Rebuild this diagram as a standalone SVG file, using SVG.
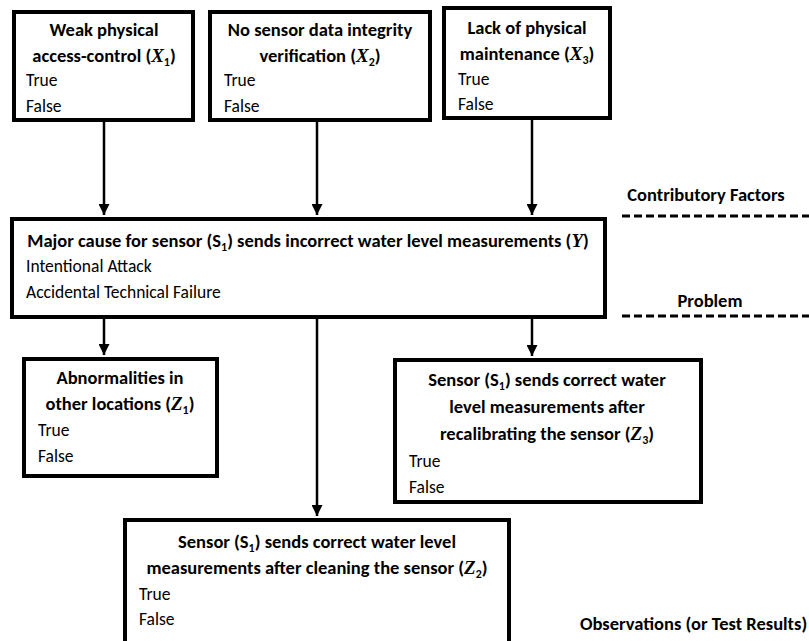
<svg xmlns="http://www.w3.org/2000/svg" width="809" height="641" viewBox="0 0 809 641">
  <style>
    .box { fill: #ffffff; stroke: #000000; stroke-width: 4; }
    .edge { stroke: #000000; stroke-width: 2.5; fill: none; }
    .dash { stroke: #000000; stroke-width: 3; stroke-dasharray: 8 4; }
    .t { font-family: Carlito, "Liberation Sans", Arial, sans-serif; font-weight: bold; font-size: 18.5px; fill: #000; text-anchor: middle; }
    .l { font-family: Carlito, "Liberation Sans", Arial, sans-serif; font-weight: bold; font-size: 18.5px; fill: #000; }
    .v { font-family: Carlito, "Liberation Sans", Arial, sans-serif; font-size: 17.5px; fill: #000; }
    .m { font-family: "Liberation Serif", "Times New Roman", serif; font-style: italic; font-weight: bold; font-size: 19px; }
    .sub { font-size: 12px; }
  </style>
  <defs>
    <marker id="arrow" viewBox="0 0 10 10" refX="10" refY="5" markerWidth="4.4" markerHeight="4.4" markerUnits="strokeWidth" orient="auto">
      <path d="M0,0 L10,5 L0,10 z" fill="#000"/>
    </marker>
  </defs>

  <!-- connectors -->
  <g id="connectors">
    <line class="edge" x1="104" y1="122" x2="104" y2="215" marker-end="url(#arrow)"/>
    <line class="edge" x1="317" y1="122" x2="317" y2="215" marker-end="url(#arrow)"/>
    <line class="edge" x1="532" y1="120" x2="532" y2="215" marker-end="url(#arrow)"/>
    <line class="edge" x1="104" y1="319" x2="104" y2="355" marker-end="url(#arrow)"/>
    <line class="edge" x1="317" y1="319" x2="317" y2="516" marker-end="url(#arrow)"/>
    <line class="edge" x1="532" y1="319" x2="532" y2="356" marker-end="url(#arrow)"/>
  </g>

  <!-- contributory factor X1 -->
  <g id="x1">
    <rect class="box" x="14" y="12" width="179" height="108"/>
    <text class="t" x="104" y="36">Weak physical</text>
    <text class="t" x="104" y="62">access-control (<tspan class="m">X</tspan><tspan class="sub" dy="4">1</tspan><tspan dy="-4">)</tspan></text>
    <text class="v" x="26" y="86">True</text>
    <text class="v" x="26" y="112">False</text>
  </g>

  <!-- contributory factor X2 -->
  <g id="x2">
    <rect class="box" x="210" y="12" width="220" height="108"/>
    <text class="t" x="320" y="36">No sensor data integrity</text>
    <text class="t" x="320" y="62">verification (<tspan class="m">X</tspan><tspan class="sub" dy="4">2</tspan><tspan dy="-4">)</tspan></text>
    <text class="v" x="224" y="86">True</text>
    <text class="v" x="224" y="112">False</text>
  </g>

  <!-- contributory factor X3 -->
  <g id="x3">
    <rect class="box" x="444" y="8" width="166" height="110"/>
    <text class="t" x="527" y="34">Lack of physical</text>
    <text class="t" x="527" y="60">maintenance (<tspan class="m">X</tspan><tspan class="sub" dy="4">3</tspan><tspan dy="-4">)</tspan></text>
    <text class="v" x="458" y="85">True</text>
    <text class="v" x="458" y="110">False</text>
  </g>

  <!-- problem Y -->
  <g id="y">
    <rect class="box" x="12" y="219" width="593" height="98"/>
    <text class="t" x="308" y="247">Major cause for sensor (S<tspan class="sub" dy="4">1</tspan><tspan dy="-4">) sends incorrect water level measurements (</tspan><tspan class="m">Y</tspan>)</text>
    <text class="v" x="26" y="272">Intentional Attack</text>
    <text class="v" x="26" y="298">Accidental Technical Failure</text>
  </g>

  <!-- observation Z1 -->
  <g id="z1">
    <rect class="box" x="24" y="359" width="193" height="117"/>
    <text class="t" x="120" y="384">Abnormalities in</text>
    <text class="t" x="120" y="410">other locations (<tspan class="m">Z</tspan><tspan class="sub" dy="4">1</tspan><tspan dy="-4">)</tspan></text>
    <text class="v" x="38" y="436">True</text>
    <text class="v" x="38" y="462">False</text>
  </g>

  <!-- observation Z3 -->
  <g id="z3">
    <rect class="box" x="395" y="360" width="306" height="142"/>
    <text class="t" x="547" y="386">Sensor (S<tspan class="sub" dy="4">1</tspan><tspan dy="-4">) sends correct water</tspan></text>
    <text class="t" x="547" y="413">level measurements after</text>
    <text class="t" x="547" y="440">recalibrating the sensor (<tspan class="m">Z</tspan><tspan class="sub" dy="4">3</tspan><tspan dy="-4">)</tspan></text>
    <text class="v" x="409" y="467">True</text>
    <text class="v" x="409" y="493">False</text>
  </g>

  <!-- observation Z2 -->
  <g id="z2">
    <rect class="box" x="125" y="520" width="384" height="130"/>
    <text class="t" x="317" y="548">Sensor (S<tspan class="sub" dy="4">1</tspan><tspan dy="-4">) sends correct water level</tspan></text>
    <text class="t" x="317" y="574">measurements after cleaning the sensor (<tspan class="m">Z</tspan><tspan class="sub" dy="4">2</tspan><tspan dy="-4">)</tspan></text>
    <text class="v" x="139" y="600">True</text>
    <text class="v" x="139" y="625">False</text>
  </g>

  <!-- layer labels -->
  <g id="layers">
    <text class="t" x="706" y="201">Contributory Factors</text>
    <line class="dash" x1="622" y1="216" x2="809" y2="216"/>
    <text class="t" x="710" y="307">Problem</text>
    <line class="dash" x1="622" y1="316" x2="809" y2="316"/>
    <text class="l" x="580" y="630">Observations (or Test Results)</text>
  </g>
</svg>
